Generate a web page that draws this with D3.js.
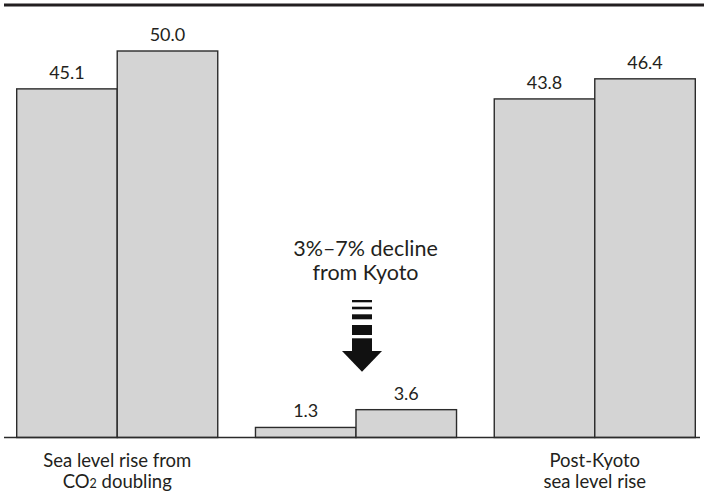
<!DOCTYPE html>
<html>
<head>
<meta charset="utf-8">
<script src="https://cdn.jsdelivr.net/npm/d3@7"></script>
<style>
  html, body { margin: 0; padding: 0; background: #fff; }
  svg { display: block; }
  text { font-family: Lato, "Open Sans", sans-serif; fill: #231f20; }
</style>
</head>
<body>
<svg id="chart" width="704" height="492"></svg>
<script>
// Groups and their two bars each
const groups = ["doubling", "decline", "postKyoto"];
const seriesKeys = ["a", "b"];
const valuesA = [45.1, 1.3, 43.8];
const valuesB = [50.0, 3.6, 46.4];
// Category captions (line 1, line 2) under each group; empty for the middle group
const captionLine1 = ["Sea level rise from", "", "Post-Kyoto"];
const captionLine2 = [["CO", "2", " doubling"], [""], ["sea level rise"]];
const annotationLines = ["3%\u20137% decline", "from Kyoto"];

const W = 704, H = 492;
const margin = { left: 16.7, right: 8.7, top: 51, bottom: 54.5 };
const svg = d3.select("#chart");

const x0 = d3.scaleBand()
  .domain(groups)
  .range([margin.left, W - margin.right])
  .paddingInner(0.158)
  .paddingOuter(0);

const x1 = d3.scaleBand()
  .domain(seriesKeys)
  .range([0, x0.bandwidth()])
  .padding(0);

const y = d3.scaleLinear()
  .domain([0, 50])
  .range([H - margin.bottom, margin.top]);

const rows = groups.map((g, i) => ({
  group: g,
  bars: [
    { key: "a", value: valuesA[i] },
    { key: "b", value: valuesB[i] }
  ]
}));

// Heavy rule across the top
svg.append("line")
  .attr("x1", 4).attr("x2", W)
  .attr("y1", 5).attr("y2", 5)
  .attr("stroke", "#231f20")
  .attr("stroke-width", 3.2);

const gGroups = svg.selectAll("g.group")
  .data(rows)
  .join("g")
  .attr("class", "group")
  .attr("transform", d => `translate(${x0(d.group)},0)`);

gGroups.selectAll("rect")
  .data(d => d.bars)
  .join("rect")
  .attr("x", d => x1(d.key))
  .attr("y", d => y(d.value))
  .attr("width", x1.bandwidth())
  .attr("height", d => y(0) - y(d.value))
  .attr("fill", "#d4d4d4")
  .attr("stroke", "#2b2b2b")
  .attr("stroke-width", 1.4);

gGroups.selectAll("text.value")
  .data(d => d.bars)
  .join("text")
  .attr("class", "value")
  .attr("x", d => x1(d.key) + x1.bandwidth() / 2)
  .attr("y", d => y(d.value) - 10)
  .attr("text-anchor", "middle")
  .attr("font-size", 18)
  .text(d => d.value.toFixed(1));

// Baseline
svg.append("line")
  .attr("x1", 4).attr("x2", 700)
  .attr("y1", y(0)).attr("y2", y(0))
  .attr("stroke", "#2b2b2b")
  .attr("stroke-width", 1.4);

// Category captions
const caps = svg.selectAll("g.caption")
  .data(groups)
  .join("g")
  .attr("class", "caption");

caps.append("text")
  .attr("x", d => x0(d) + x0.bandwidth() / 2)
  .attr("y", y(0) + 29)
  .attr("text-anchor", "middle")
  .attr("font-size", 18.5)
  .text((d, i) => captionLine1[i]);

caps.append("text")
  .attr("x", d => x0(d) + x0.bandwidth() / 2)
  .attr("y", y(0) + 50)
  .attr("text-anchor", "middle")
  .attr("font-size", 18.5)
  .each(function (d, i) {
    const t = d3.select(this);
    const parts = captionLine2[i];
    parts.forEach((p, j) => {
      const sub = parts.length === 3 && j === 1;
      t.append("tspan")
        .attr("font-size", sub ? 12.5 : 18.5)
        .text(p);
    });
  });

// Annotation over the middle group: text plus striped down arrow
const midX = x0("decline") + x0.bandwidth() / 2 + 6;
svg.selectAll("text.note")
  .data(annotationLines)
  .join("text")
  .attr("class", "note")
  .attr("x", midX + 3.5)
  .attr("y", (d, i) => 255.5 + i * 24)
  .attr("text-anchor", "middle")
  .attr("font-size", 21.5)
  .text(d => d);

const arrow = svg.append("g").attr("transform", `translate(${midX},0)`);
const stripes = [[300, 302.3], [306.7, 309.3], [314.3, 319.3], [325, 335], [338.3, 352]];
arrow.selectAll("rect")
  .data(stripes)
  .join("rect")
  .attr("x", -10)
  .attr("width", 20)
  .attr("y", d => d[0])
  .attr("height", d => d[1] - d[0])
  .attr("fill", "#111");
arrow.append("path")
  .attr("d", "M-20,351 L20,351 L0,371.7 Z")
  .attr("fill", "#111");
</script>
</body>
</html>
